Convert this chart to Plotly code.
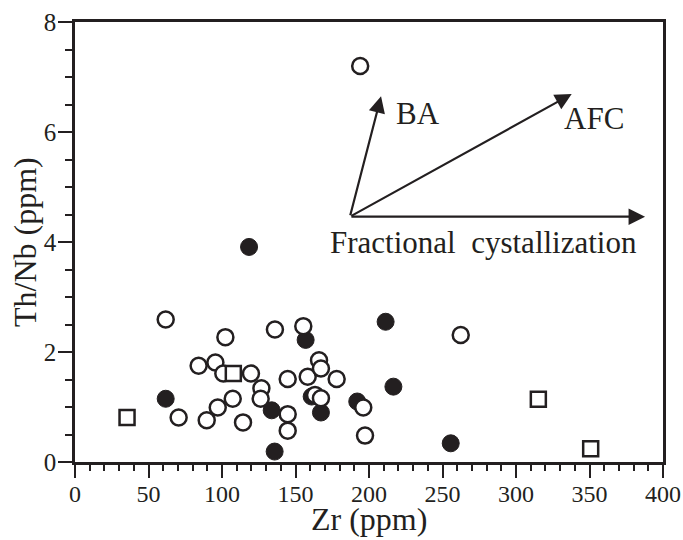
import plotly.graph_objects as go

# Open circles
open_zr = [194, 61.7, 102.3, 84.1, 95.5, 100.9, 119.7, 126.8, 126.3, 107.3, 97.1, 89.6,
           114.3, 70.5, 136, 155.3, 144.7, 144.7, 144.7, 158.3, 166, 167.3, 178, 163.3,
           167.3, 196.1, 197.3, 262.4]
open_thnb = [7.2, 2.59, 2.27, 1.75, 1.81, 1.61, 1.61, 1.34, 1.15, 1.15, 0.99, 0.76,
             0.72, 0.81, 2.41, 2.47, 1.51, 0.87, 0.57, 1.55, 1.85, 1.70, 1.51, 1.22,
             1.16, 0.99, 0.48, 2.31]
# Filled circles
fill_zr = [61.7, 118.4, 156.9, 135.8, 133.8, 161, 167.3, 192, 211.3, 216.6, 255.6]
fill_thnb = [1.15, 3.91, 2.22, 0.19, 0.94, 1.19, 0.90, 1.10, 2.55, 1.37, 0.34]
# Open squares
sq_zr = [35.4, 107.7, 315.2, 350.8]
sq_thnb = [0.81, 1.61, 1.14, 0.24]

# Vectors: origin and tips, with labels
vec_origin = (187, 4.46)
vec_tips = [(208.2, 6.65), (337.9, 6.69), (387.8, 4.46)]
vec_labels = ["BA", "AFC", "Fractional  cystallization"]
label_pos = [(233, 6.34), (353, 6.24), (278, 3.99)]

x_ticks = [0, 50, 100, 150, 200, 250, 300, 350, 400]
y_ticks = [0, 2, 4, 6, 8]
x_title = "Zr (ppm)"
y_title = "Th/Nb (ppm)"

ink = "#231f20"
font_family = "Liberation Serif, Times New Roman, serif"

fig = go.Figure()
fig.add_trace(go.Scatter(x=fill_zr, y=fill_thnb, mode="markers",
                         marker=dict(symbol="circle", size=17, color=ink,
                                     line=dict(color=ink, width=1)),
                         showlegend=False, cliponaxis=False))
fig.add_trace(go.Scatter(x=open_zr, y=open_thnb, mode="markers",
                         marker=dict(symbol="circle", size=16, color="white",
                                     line=dict(color=ink, width=2.5)),
                         showlegend=False, cliponaxis=False))
fig.add_trace(go.Scatter(x=sq_zr, y=sq_thnb, mode="markers",
                         marker=dict(symbol="square", size=15, color="white",
                                     line=dict(color=ink, width=2.5)),
                         showlegend=False, cliponaxis=False))

for (tx, ty) in vec_tips:
    fig.add_annotation(x=tx, y=ty, ax=vec_origin[0], ay=vec_origin[1],
                       xref="x", yref="y", axref="x", ayref="y",
                       showarrow=True, arrowhead=2, arrowsize=1.5, arrowwidth=2.2,
                       arrowcolor=ink, text="")
for lab, (lx, ly) in zip(vec_labels, label_pos):
    fig.add_annotation(x=lx, y=ly, xref="x", yref="y", text=lab, showarrow=False,
                       font=dict(family=font_family, size=31, color=ink))

# Axis titles
fig.add_annotation(x=0.5, y=-0.13, xref="paper", yref="paper", text=x_title,
                   showarrow=False, xanchor="center", yanchor="middle",
                   font=dict(family=font_family, size=32, color=ink))
fig.add_annotation(x=-0.085, y=0.5, xref="paper", yref="paper", text=y_title,
                   showarrow=False, xanchor="center", yanchor="middle", textangle=-90,
                   font=dict(family=font_family, size=32, color=ink))

fig.update_xaxes(range=[0, 400], tickvals=x_ticks, ticktext=[str(v) for v in x_ticks],
                 ticks="outside", ticklen=13, tickwidth=2, tickcolor=ink,
                 ticklabelstandoff=-5,
                 minor=dict(dtick=10, ticks="outside", ticklen=6, tickwidth=2, tickcolor=ink),
                 showline=True, linewidth=2.5, linecolor=ink, mirror=True,
                 showgrid=False, zeroline=False, automargin=False,
                 tickfont=dict(family=font_family, size=24, color=ink))
fig.update_yaxes(range=[0, 8], tickvals=y_ticks, ticktext=[str(v) for v in y_ticks],
                 ticks="outside", ticklen=14, tickwidth=2, tickcolor=ink,
                 ticklabelstandoff=-3,
                 minor=dict(dtick=0.5, ticks="outside", ticklen=7, tickwidth=2, tickcolor=ink),
                 showline=True, linewidth=2.5, linecolor=ink, mirror=True,
                 showgrid=False, zeroline=False, automargin=False,
                 tickfont=dict(family=font_family, size=25, color=ink))

fig.update_layout(width=683, height=540, margin=dict(l=75, r=20, t=22, b=78),
                  plot_bgcolor="white", paper_bgcolor="white")

# Remove the default page margin so the figure fills the window exactly.
fig.write_html("out.html",
               config={"displayModeBar": False},
               post_script="document.body.style.margin='0';"
                           "document.body.style.overflow='hidden';")
